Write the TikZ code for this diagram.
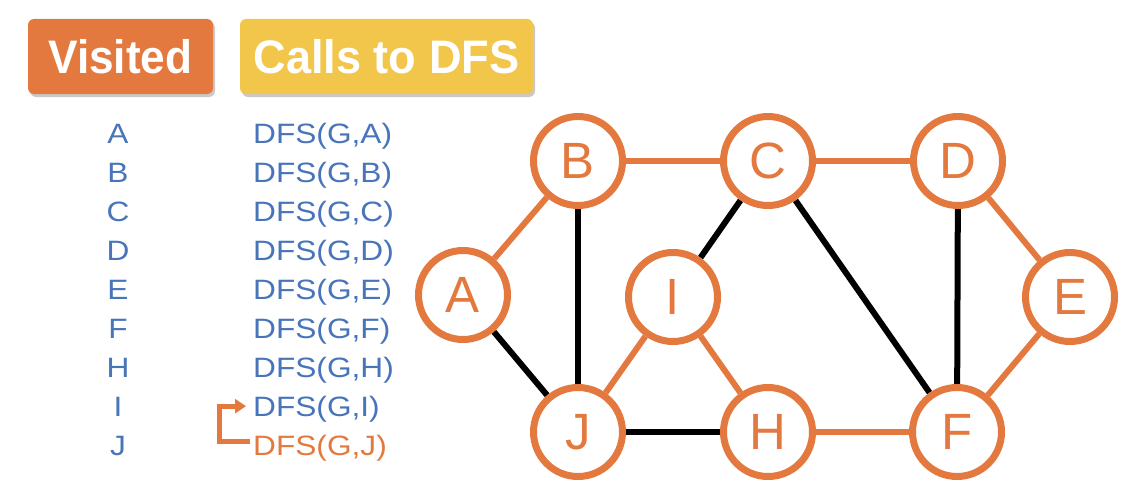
\documentclass[tikz,border=0pt]{standalone}
\usepackage{fontspec}
\setmainfont{Liberation Sans}
\usetikzlibrary{shadows,backgrounds,arrows.meta}
\definecolor{dfsorange}{RGB}{227,121,62}
\definecolor{dfsyellow}{RGB}{242,197,75}
\definecolor{dfsblue}{RGB}{72,116,186}
\tikzset{
  header/.style={rounded corners=6pt, text=white, inner sep=0pt,
    font=\fontsize{47}{47}\selectfont\bfseries, minimum height=75pt,
    drop shadow={shadow xshift=2pt, shadow yshift=-3pt, opacity=0.3, fill=black!70}},
  listtxt/.style={font=\fontsize{28}{28}\selectfont, text=dfsblue, inner sep=0pt},
  vtx/.style={circle, draw=dfsorange, line width=7pt, fill=white, minimum size=89pt,
    inner sep=0pt, text=dfsorange, font=\fontsize{51}{51}\selectfont},
  oe/.style={draw=dfsorange, line width=6pt},
  be/.style={draw=black, line width=6pt},
  elbow/.style={draw=dfsorange, line width=5pt, line join=miter,
    -{Triangle[length=11pt,width=14pt]}}
}
\newcommand{\widetxt}[1]{\scalebox{1.13}[1]{#1}}
\begin{document}
\begin{tikzpicture}[x=1pt,y=-1pt]
\useasboundingbox (0,0) rectangle (1148,495);
% headers
\node[header, fill=dfsorange, minimum width=185pt] (hv) at (120.5,56.5) {\scalebox{0.94}[1]{Visited}};
\node[header, fill=dfsyellow, minimum width=293pt] (hc) at (386.5,56.5) {\scalebox{0.96}[1]{Calls to DFS}};
% lists
\foreach \n/\l [count=\i from 0] in {vA/A,vB/B,vC/C,vD/D,vE/E,vF/F,vH/H,vI/I,vJ/J}{
  \node[listtxt, anchor=base] (\n) at (118,143+39.06*\i) {\widetxt{\l}};
}
\foreach \n/\l [count=\i from 0] in {cA/A,cB/B,cC/C,cD/D,cE/E,cF/F,cH/H,cI/I}{
  \node[listtxt, anchor=base west] (\n) at (253,143+39.06*\i) {\widetxt{DFS(G,\l)}};
}
\node[listtxt, anchor=base west, text=dfsorange] (cJ) at (253,143+39.06*8) {\widetxt{DFS(G,J)}};
\draw[elbow] ([xshift=-3pt,yshift=7pt]cJ.west) -- ++(-31,0) |- ([xshift=-7pt,yshift=3pt]cI.west);
% graph
\node[vtx] (A) at (463,295) {A};
\node[vtx] (B) at (578,161) {B};
\node[vtx] (C) at (768,161) {C};
\node[vtx] (D) at (958,161) {D};
\node[vtx] (E) at (1070,297) {E};
\node[vtx] (I) at (673,297) {I};
\node[vtx] (J) at (578,432) {J};
\node[vtx] (H) at (768,432) {H};
\node[vtx] (F) at (957,432) {F};
\begin{scope}[on background layer]
\draw[oe] (A) -- (B);
\draw[oe] (B) -- (C);
\draw[oe] (C) -- (D);
\draw[oe] (D) -- (E);
\draw[oe] (E) -- (F);
\draw[oe] (F) -- (H);
\draw[oe] (H) -- (I);
\draw[oe] (I) -- (J);
\draw[be] (A) -- (J);
\draw[be] (B) -- (J);
\draw[be] (C) -- (I);
\draw[be] (C) -- (F);
\draw[be] (D) -- (F);
\draw[be] (J) -- (H);
\end{scope}
\end{tikzpicture}
\end{document}
